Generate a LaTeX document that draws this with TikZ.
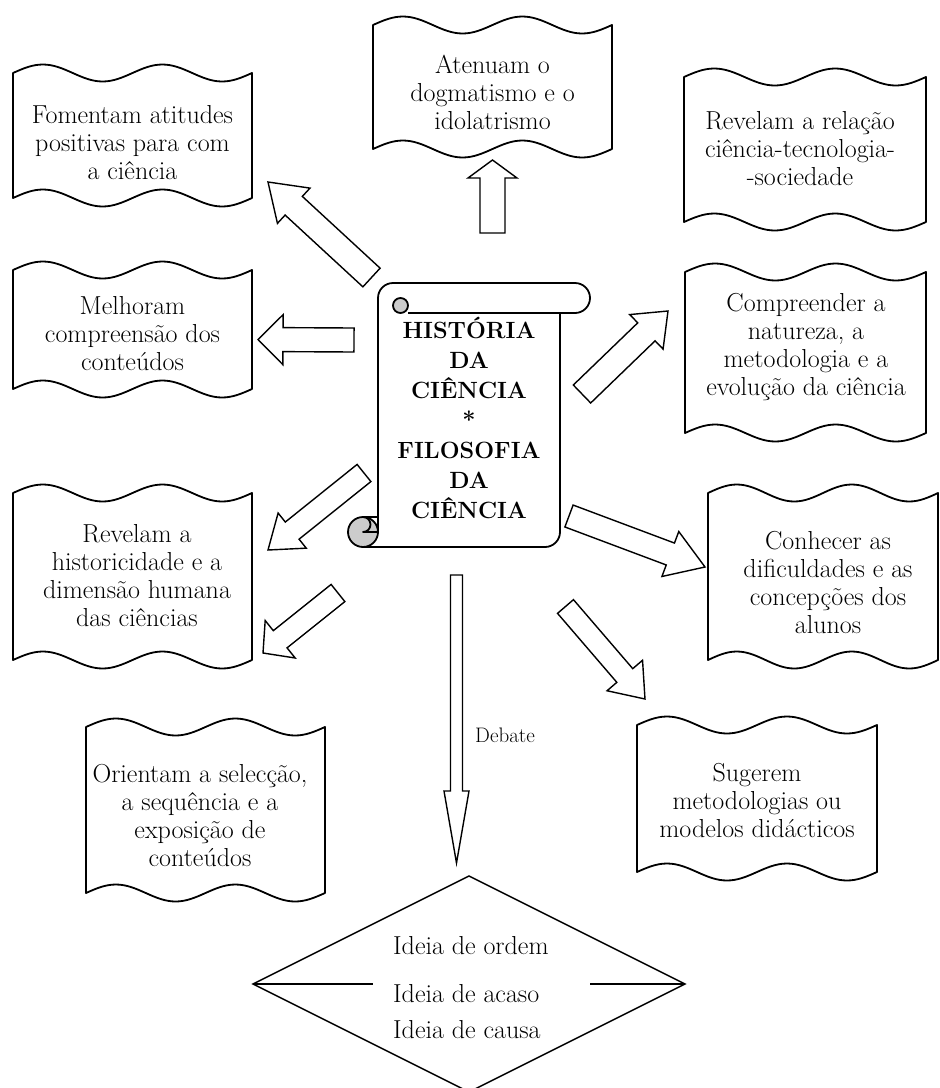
\documentclass[tikz,border=0pt]{standalone}
\usepackage{fontspec}
\usetikzlibrary{calc}

% wavy banner with a double sine wave on its upper and lower edge
\newcommand\wavepanel[5]{% name, left, right, top, bottom
  \pgfmathsetmacro\pL{#2}\pgfmathsetmacro\pR{#3}%
  \pgfmathsetmacro\pT{#4}\pgfmathsetmacro\pB{#5}%
  \pgfmathsetmacro\q{(\pR-\pL)/8}%
  \draw[panel] (\pL,\pT)
     sin ({\pL+\q},{\pT-\wa}) cos ({\pL+2*\q},\pT)
     sin ({\pL+3*\q},{\pT+\wa}) cos ({\pL+4*\q},\pT)
     sin ({\pL+5*\q},{\pT-\wa}) cos ({\pL+6*\q},\pT)
     sin ({\pL+7*\q},{\pT+\wa}) cos (\pR,\pT)
     -- (\pR,\pB)
     sin ({\pR-\q},{\pB+\wa}) cos ({\pR-2*\q},\pB)
     sin ({\pR-3*\q},{\pB-\wa}) cos ({\pR-4*\q},\pB)
     sin ({\pR-5*\q},{\pB+\wa}) cos ({\pR-6*\q},\pB)
     sin ({\pR-7*\q},{\pB-\wa}) cos (\pL,\pB)
     -- cycle;
  \coordinate (#1) at ({\pL+4*\q},{(\pT+\pB)/2});
}

% outlined block arrow from a tail coordinate to a tip coordinate
\newcommand\blockarrow[5]{% tail, tip, shaft half width, head half width, head length
  \coordinate (bh) at ($(#2)!#5pt!(#1)$);
  \draw[barrow] ($(#1)!#3pt!90:(#2)$) -- ($(bh)!#3pt!90:(#2)$)
     -- ($(bh)!#4pt!90:(#2)$) -- (#2) -- ($(bh)!#4pt!-90:(#2)$)
     -- ($(bh)!#3pt!-90:(#2)$) -- ($(#1)!#3pt!-90:(#2)$) -- cycle;
}

\newcommand\wa{8.5}

\begin{document}
\begin{tikzpicture}[x=1pt,y=-1pt,
  panel/.style={draw=black,line width=1.8pt,fill=white,line join=round},
  barrow/.style={draw=black,line width=1.4pt,fill=white,line join=miter},
  scrollline/.style={draw=black,line width=1.8pt,line join=round},
  curl/.style={fill=gray!40},
  txt/.style={font=\fontsize{26}{28}\selectfont,align=center,inner sep=0pt,
    execute at begin node=\strut,execute at end node=\strut},
  title/.style={font=\fontsize{23.5}{30}\selectfont\bfseries,align=center,inner sep=0pt,
    execute at begin node=\strut,execute at end node=\strut},
  small/.style={font=\fontsize{21}{24}\selectfont,inner sep=0pt},
  diam/.style={draw=black,line width=1.4pt,line join=miter}]

\useasboundingbox (0,0) rectangle (940,1088);
\clip (0,0) rectangle (940,1088);
\fill[white] (0,0) rectangle (940,1088);

% ---------- banners ----------
\wavepanel{p1}{373}{612}{25}{149}
\wavepanel{p2}{13}{252}{73}{198}
\wavepanel{p3}{684}{926}{77}{222}
\wavepanel{p4}{13}{252}{270}{389}
\wavepanel{p5}{685}{926}{272}{433}
\wavepanel{p6}{13}{252}{493}{660}
\wavepanel{p7}{708}{938}{493}{660}
\wavepanel{p8}{86}{325}{727}{893}
\wavepanel{p9}{637}{877}{725}{872}

\node[txt] (t1) at (492.5,96.9) {Atenuam o\\dogmatismo e o\\idolatrismo};
\node[txt] (t2) at (132.5,146.4) {Fomentam atitudes\\positivas para com\\a ciência};
\node[txt] (t3) at (800,152.3) {Revelam a relação\\ciência-tecnologia-\\-sociedade};
\node[txt] (t4) at (132.5,337.9) {Melhoram\\compreensão dos\\conteúdos};
\node[txt] (t5) at (806,348.4) {Compreender a\\natureza, a\\metodologia e a\\evolução da ciência};
\node[txt] (t6) at (137,579.4) {Revelam a\\historicidade e a\\dimensão humana\\das ciências};
\node[txt] (t7) at (828,586.9) {Conhecer as\\dificuldades e as\\concepções dos\\alunos};
\node[txt] (t8) at (200,819.4) {Orientam a selecção,\\a sequência e a\\exposição de\\conteúdos};
\node[txt] (t9) at (757,804.4) {Sugerem\\metodologias ou\\modelos didácticos};

% ---------- central scroll ----------
\fill[white] (378,298) rectangle (560,547);
\draw[scrollline] (378,532) -- (378,298)
  arc[start angle=180,end angle=270,radius=15] -- (575,283)
  arc[start angle=-90,end angle=90,radius=15] -- (408,313);
\draw[scrollline] (560,313) -- (560,532)
  arc[start angle=0,end angle=90,radius=15] -- (363,547);
% upper curl
\filldraw[curl,scrollline] (400.5,305.5) circle[radius=7.5];
% lower curl
\filldraw[curl,scrollline] (363,532) circle[radius=15];
\draw[scrollline] (363,517) -- (378,517);
\draw[scrollline] (363,517) arc[start angle=-90,end angle=90,radius=7.5] -- (378,532);

\node[title] (hist) at (469,422)
  {HISTÓRIA\\DA\\CIÊNCIA\\*\\FILOSOFIA\\DA\\CIÊNCIA};

% ---------- block arrows ----------
\coordinate (a1s) at (492.5,233);   \coordinate (a1e) at (492.5,160);
\coordinate (a2s) at (371.5,277.5); \coordinate (a2e) at (268,182);
\coordinate (a3s) at (354,340);     \coordinate (a3e) at (258,339.5);
\coordinate (a4s) at (582,394);     \coordinate (a4e) at (668,311);
\coordinate (a5s) at (364,473);     \coordinate (a5e) at (268,550);
\coordinate (a6s) at (338,593);     \coordinate (a6e) at (263,653);
\coordinate (a7s) at (569,516);     \coordinate (a7e) at (705,567);
\coordinate (a8s) at (565.5,606.5); \coordinate (a8e) at (645,699);
\coordinate (a9s) at (456.5,575);   \coordinate (a9e) at (456.5,863);

\blockarrow{a1s}{a1e}{12.5}{24.5}{18}
\blockarrow{a2s}{a2e}{12.7}{24}{35}
\blockarrow{a3s}{a3e}{12}{25}{25}
\blockarrow{a4s}{a4e}{12.5}{24}{30}
\blockarrow{a5s}{a5e}{11}{22.5}{31}
\blockarrow{a6s}{a6e}{11}{24}{22}
\blockarrow{a7s}{a7e}{11.7}{24}{37}
\blockarrow{a8s}{a8e}{10.5}{23.4}{31}
\blockarrow{a9s}{a9e}{6}{12.5}{72}

\node[small,anchor=base west] (deb) at (475,742) {Debate};

% ---------- diamond ----------
\coordinate (dt) at (469,876);
\coordinate (dl) at (253,984);
\coordinate (dr) at (685,984);
\coordinate (db) at (469,1092);
\coordinate (ml) at (373,984);
\coordinate (mr) at (590,984);
\draw[diam] (dt) -- (dr) -- (db) -- (dl) -- cycle;
\draw[diam] (dl) -- (ml);
\draw[diam] (mr) -- (dr);
\node[txt,align=left,anchor=west] (idea) at (393,991.4)
  {Ideia de ordem\\[20pt]Ideia de acaso\\[8pt]Ideia de causa};
\end{tikzpicture}
\end{document}
